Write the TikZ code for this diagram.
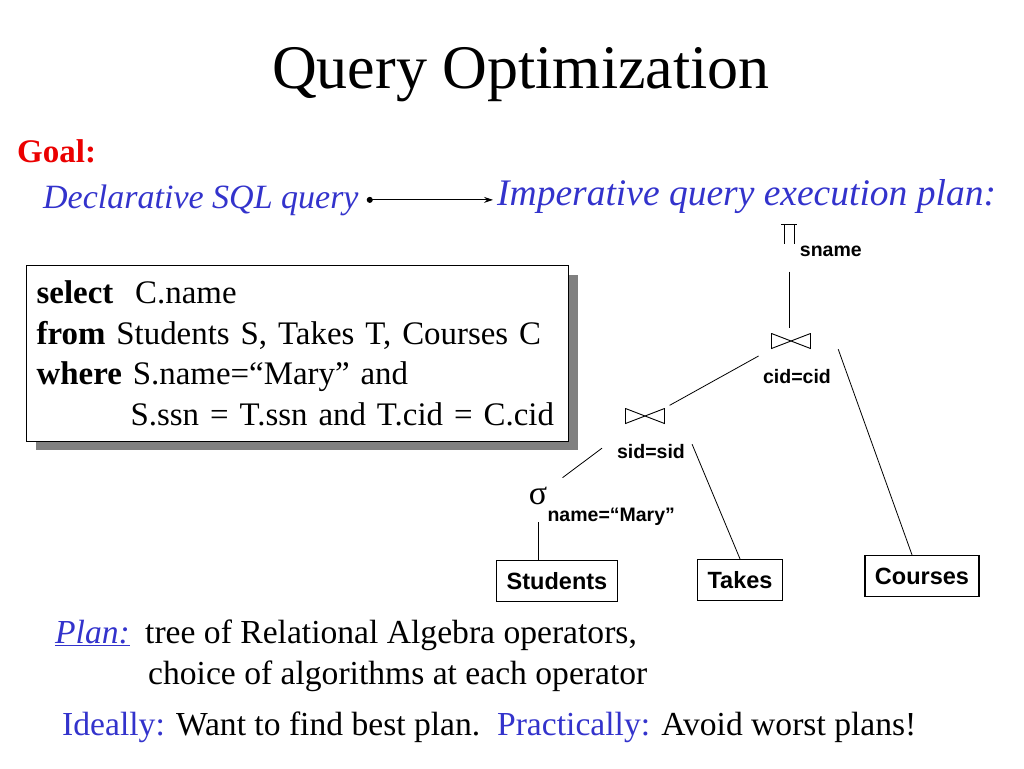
\documentclass[tikz,border=0pt]{standalone}
\usepackage{fontspec}
\setmainfont{Liberation Serif}
\setsansfont{Liberation Sans}
\usetikzlibrary{positioning, shadows, arrows.meta}
\definecolor{goalred}{RGB}{235,0,0}
\definecolor{planblue}{RGB}{51,51,204}
\tikzset{
x=1pt, y=-1pt, % one unit is one pixel of the slide, y grows downwards
txt/.style={inner sep=0pt, font=\fontsize{33.6}{40}\selectfont}, % plain slide text
blue/.style={txt, text=planblue, font=\itshape\fontsize{34}{40}\selectfont}, % the goal line
opname/.style={inner sep=0pt, font=\sffamily\bfseries\fontsize{19.5}{22}\selectfont}, % subscripts of the operators
rel/.style={draw, line width=1.2pt, minimum height=41pt, inner xsep=10pt, font=\sffamily\bfseries\fontsize{23.5}{26}\selectfont}, % base relations
joinop/.style={minimum width=40pt, minimum height=16pt, inner sep=0pt,
  path picture={\draw[line width=0.9pt] ([shift={(-19.5,7.5)}]path picture bounding box.center) -- ([shift={(-19.5,-7.5)}]path picture bounding box.center)
  -- ([shift={(19.5,7.5)}]path picture bounding box.center) -- ([shift={(19.5,-7.5)}]path picture bounding box.center) -- cycle;}}, % bowtie
projop/.style={minimum width=17pt, minimum height=21pt, inner sep=0pt,
  path picture={\draw[line width=0.8pt] ([shift={(-8,-10)}]path picture bounding box.center) -- ([shift={(8,-10)}]path picture bounding box.center)
  ([shift={(-5,-10)}]path picture bounding box.center) -- ([shift={(-5,10)}]path picture bounding box.center)
  ([shift={(5,-10)}]path picture bounding box.center) -- ([shift={(5,10)}]path picture bounding box.center);}}, % projection
edge/.style={line width=0.8pt}, % tree lines
query/.style={draw, line width=1.2pt, fill=white, text width=522pt, inner xsep=10pt, inner ysep=15.5pt, align=left,
  drop shadow={shadow xshift=9pt, shadow yshift=-9pt, fill=gray, opacity=1}, font=\fontsize{32.9}{40.5}\selectfont}, % the SQL box
}
\begin{document}
\begin{tikzpicture}
    \fill[white] (0,0) rectangle (1024,768);
    \useasboundingbox (0,0) rectangle (1024,768);
    \node[inner sep=0pt, anchor=base, font=\fontsize{62}{70}\selectfont] (title) at (521,88) {Query Optimization};
    \node[txt, anchor=base west, text=goalred, font=\bfseries\fontsize{33}{40}\selectfont] (goal) at (17,162) {Goal:};
    \node[blue, anchor=base west] (decl) at (43,208) {Declarative SQL query};
    \node[blue, anchor=base west, font=\itshape\fontsize{37.5}{42}\selectfont] (imper) at (497,205) {Imperative query execution plan:};
    \draw[line width=1pt, {Circle[length=6pt]}-{Stealth[length=9pt, width=6pt]}, shorten <=8pt, shorten >=4pt] (decl.east) -- (decl.east -| imper.west);

    \node[query, anchor=north west] (sql) at (26,265) {\textbf{select}\ \ C.name\\
      \textbf{from} Students S, Takes T, Courses C\\
      \textbf{where} S.name=“Mary” and\\
      \hspace*{94pt}S.ssn = T.ssn and T.cid = C.cid};

    % plan tree
    \node[projop] (pi) at (789,234) {};
    \node[opname, below right=1pt and 2pt of pi.south east] (sname) {sname};
    \node[joinop] (j1) at (791,341) {};
    \node[opname, below=20pt of j1, xshift=6pt] (cidlbl) {cid=cid};
    \node[joinop] (j2) at (645,416) {};
    \node[opname, below=20pt of j2, xshift=6pt] (sidlbl) {sid=sid};
    \node[inner sep=0pt, font=\fontsize{34}{34}\selectfont] (sigma) at (538,496) {σ};
    \node[opname, below right=3pt and 0pt of sigma.south east] (mrylbl) {name=“Mary”};
    \node[rel] (students) at (557,581) {Students};
    \node[rel] (takes) at (740,580) {Takes};
    \node[rel] (courses) at (922,576) {Courses};

    \draw[edge, shorten <=27pt, shorten >=5pt] (pi.south) -- (pi.south |- j1.north);
    \draw[edge, shorten <=14pt, shorten >=5pt] (j1.south west) -- (j2.north east);
    \draw[edge] ([xshift=27pt]j1.south east) -- ([xshift=-10pt]courses.north);
    \draw[edge, shorten <=40pt, shorten >=19pt] (j2) -- (sigma);
    \draw[edge] ([xshift=7pt]sidlbl.north east) -- (takes.north);
    \draw[edge, shorten <=17pt] (sigma.south) -- (sigma.south |- students.north);

    % the notes below
    \node[txt, anchor=base west, text=planblue, font=\itshape\fontsize{33.6}{40}\selectfont] (plan) at (55,643) {\underline{Plan:}};
    \node[txt, anchor=base west] (tree) at (145,643) {tree of Relational Algebra operators,};
    \node[txt, anchor=base west] (choice) at (148,684) {choice of algorithms at each operator};
    \node[txt, anchor=base west] (ideal) at (62,735) {\textcolor{planblue}{Ideally:} Want to find best plan.\ \ \textcolor{planblue}{Practically:} Avoid worst plans!};
\end{tikzpicture}
\end{document}
